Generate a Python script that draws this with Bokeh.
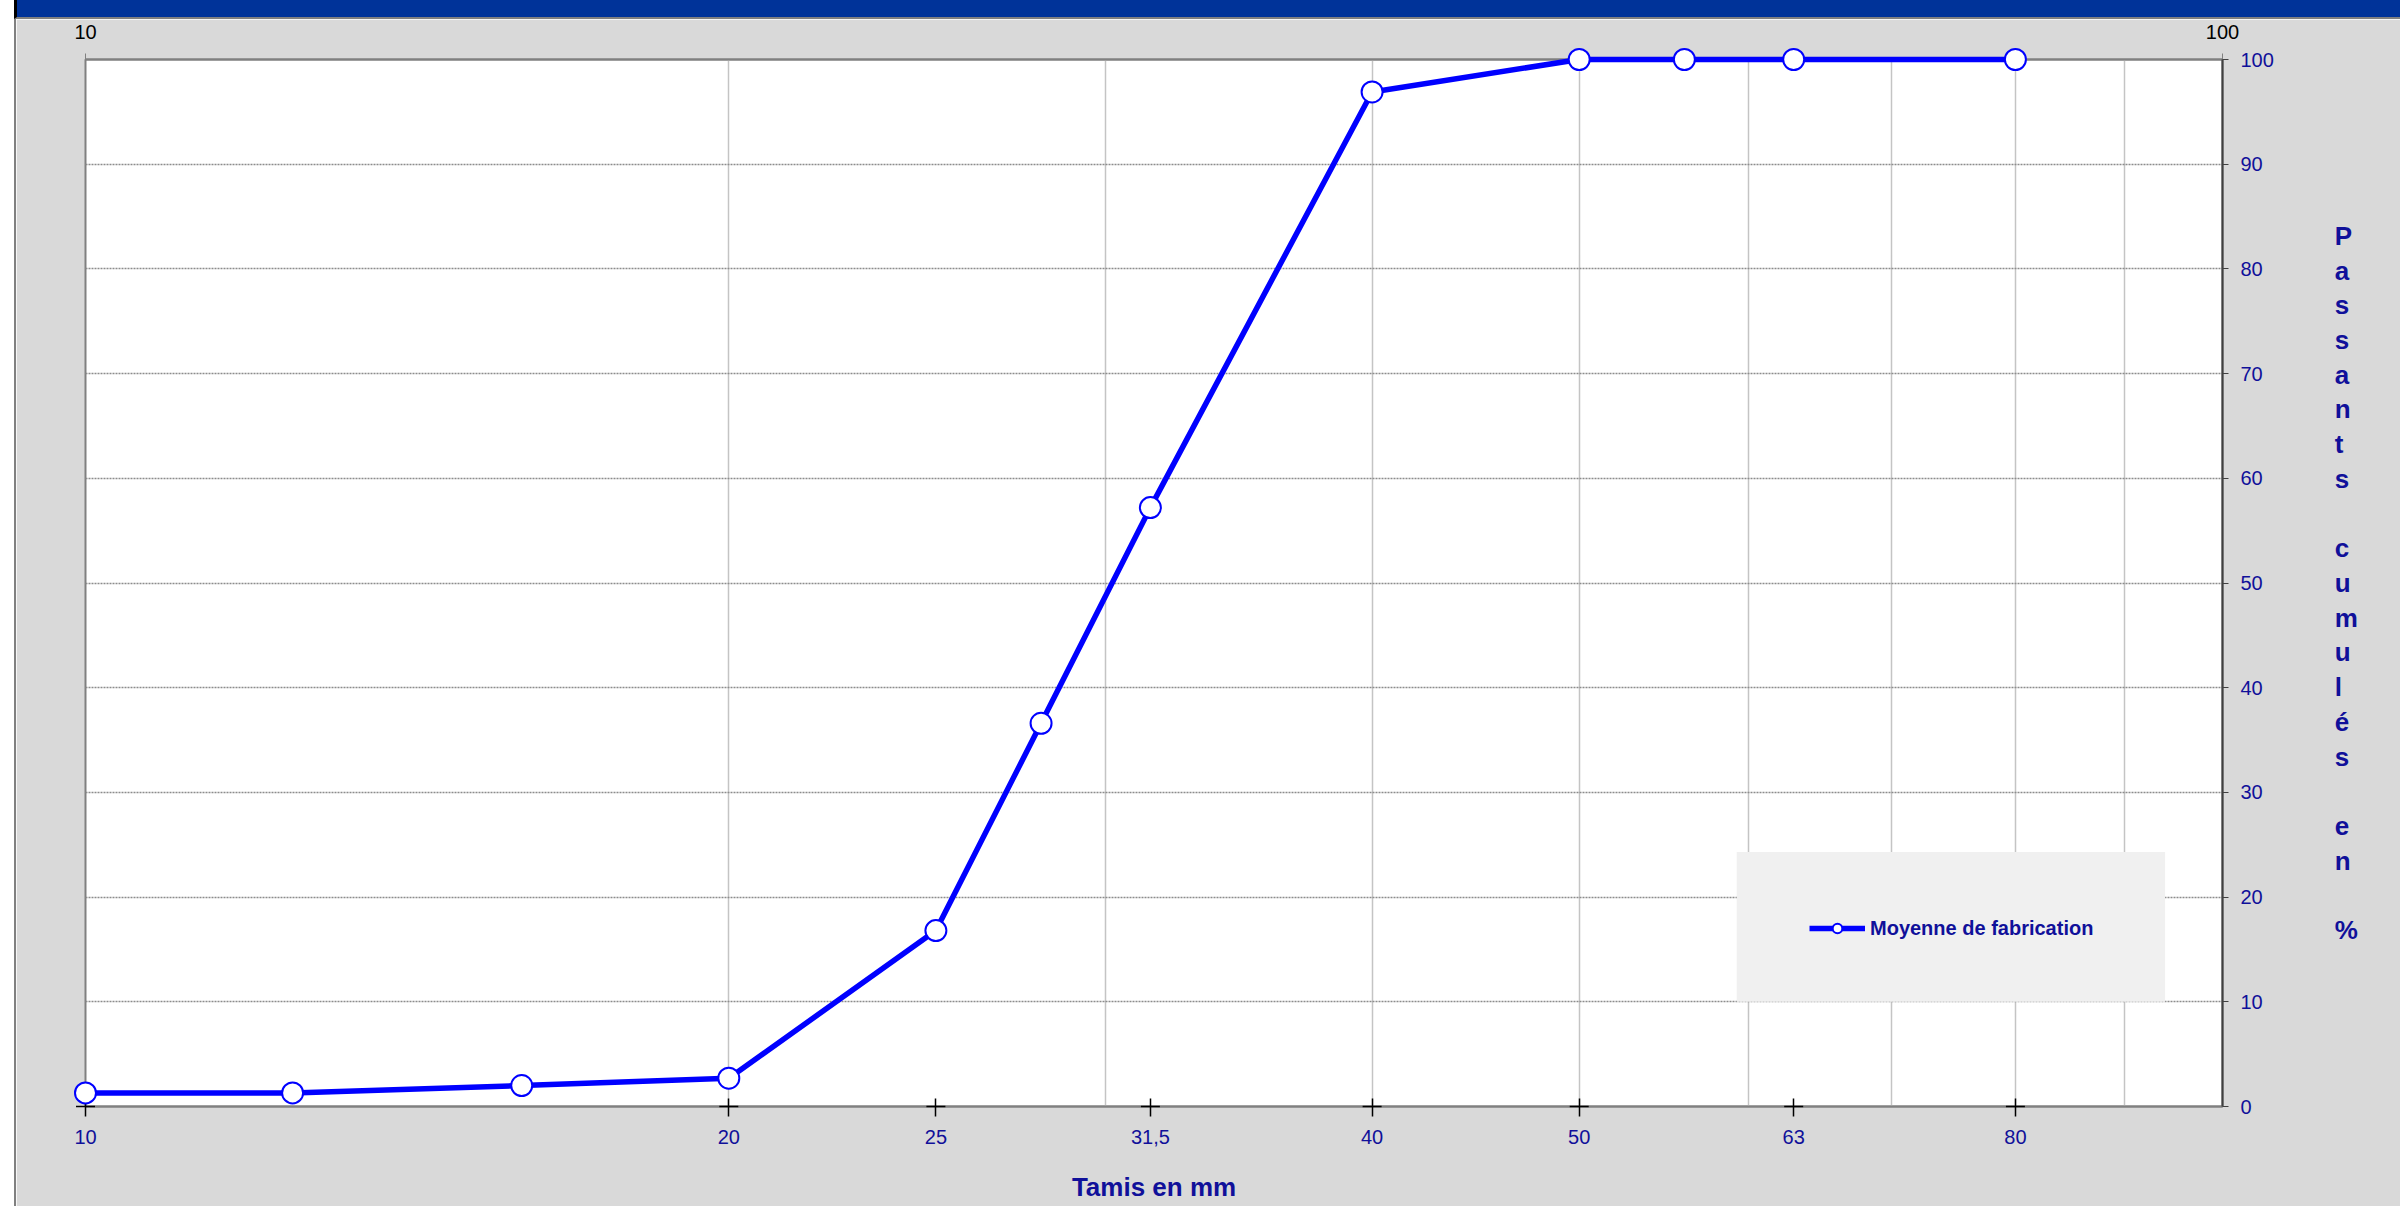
from bokeh.plotting import figure
from bokeh.models import (LogAxis, FixedTicker, Legend, LegendItem, BoxAnnotation,
                          Div, Spacer, CustomJSTickFormatter, ColumnDataSource)
from bokeh.layouts import column, row
from bokeh.embed import file_html
from bokeh.resources import INLINE

# ---- data ----
sieves = [10, 12.5, 16, 20, 25, 28, 31.5, 40, 50, 56, 63, 80]
passing = [1.3, 1.3, 2.0, 2.7, 16.8, 36.6, 57.2, 96.9, 100, 100, 100, 100]
bottom_ticks = [10, 20, 25, 31.5, 40, 50, 63, 80]
top_ticks = [10, 100]
right_ticks = [0, 10, 20, 30, 40, 50, 60, 70, 80, 90, 100]
xgrid_ticks = [20, 30, 40, 50, 60, 70, 80, 90]
ygrid_ticks = [10, 20, 30, 40, 50, 60, 70, 80, 90]
series_name = "Moyenne de fabrication"
x_title = "Tamis en mm"
y_title = "Passants cumulés en %"

FONT = "Liberation Sans"
NAVY = "#10109A"
GREY_BG = "#D9D9D9"

FIG_W, FIG_H = 2384, 1187

p = figure(width=FIG_W, height=FIG_H, x_axis_type="log", x_range=(10, 100), y_range=(0, 100),
           x_axis_location="below", y_axis_location="right",
           output_backend="svg", toolbar_location=None,
           min_border_left=69, min_border_right=178, min_border_top=40, min_border_bottom=100)
p.border_fill_color = GREY_BG
p.background_fill_color = "white"
p.outline_line_color = "#808080"
p.outline_line_width = 2

# bottom axis
xa = p.xaxis[0]
xa.ticker = FixedTicker(ticks=bottom_ticks)
xa.formatter = CustomJSTickFormatter(code="return String(tick).replace('.', ',')")
xa.major_tick_in = 8
xa.major_tick_out = 10
xa.major_tick_line_color = "black"
xa.major_tick_line_width = 1.5
xa.minor_tick_line_color = None
xa.axis_line_color = "#808080"
xa.axis_line_width = 2
xa.major_label_text_font = FONT
xa.major_label_text_font_size = "20px"
xa.major_label_text_color = NAVY
xa.major_label_standoff = 13
xa.axis_label = x_title
xa.axis_label_text_font = FONT
xa.axis_label_text_font_size = "26px"
xa.axis_label_text_font_style = "bold"
xa.axis_label_text_color = NAVY
xa.axis_label_standoff = 25

# right axis
stacked_lines = [ch if ch != " " else " " for ch in y_title]
ya = p.yaxis[0]
ya.ticker = FixedTicker(ticks=right_ticks)
ya.major_tick_in = 0
ya.major_tick_out = 6
ya.major_tick_line_color = "#404040"
ya.minor_tick_line_color = None
ya.axis_line_color = "#404040"
ya.axis_line_width = 2
ya.major_label_text_font = FONT
ya.major_label_text_font_size = "20px"
ya.major_label_text_color = NAVY
ya.major_label_standoff = 12
ya.axis_label = "\n".join(stacked_lines)
ya.axis_label_orientation = "horizontal"
ya.axis_label_text_font = FONT
ya.axis_label_text_font_size = "26px"
ya.axis_label_text_font_style = "bold"
ya.axis_label_text_color = NAVY
ya.axis_label_text_align = "center"
ya.axis_label_text_line_height = 1.157
ya.axis_label_standoff = 58

# top axis
ta = LogAxis(ticker=FixedTicker(ticks=top_ticks),
             formatter=CustomJSTickFormatter(code="return String(tick)"))
ta.major_tick_in = 0
ta.major_tick_out = 6
ta.major_tick_line_color = "#808080"
ta.minor_tick_line_color = None
ta.axis_line_color = "#808080"
ta.axis_line_width = 2
ta.major_label_text_font = FONT
ta.major_label_text_font_size = "20px"
ta.major_label_text_color = "black"
ta.major_label_standoff = 15
p.add_layout(ta, "above")

# grids
p.xgrid.ticker = FixedTicker(ticks=xgrid_ticks)
p.xgrid.grid_line_color = "#C4C4C4"
p.xgrid.grid_line_width = 1.5
p.ygrid.ticker = FixedTicker(ticks=ygrid_ticks)
p.ygrid.grid_line_color = "#8C8C8C"
p.ygrid.grid_line_width = 1.5
p.ygrid.grid_line_dash = "2 1"

# legend background box
p.add_layout(BoxAnnotation(left=59.25, right=94.0, bottom=10.0, top=24.3,
                           fill_color="#F0F0F0", fill_alpha=1, line_color=None))

src = ColumnDataSource(data=dict(x=sieves, y=passing))
line_r = p.line("x", "y", source=src, line_color="#0000FF", line_width=5.5, level="overlay")
pts_r = p.scatter("x", "y", source=src, marker="circle", size=21, fill_color="white",
                  line_color="#0000FF", line_width=2, level="overlay")

# "+" tick marks along the bottom axis
tick_src = ColumnDataSource(data=dict(x=bottom_ticks, y=[0] * len(bottom_ticks)))
p.scatter("x", "y", source=tick_src, marker="dash", size=19, line_color="black",
          line_width=1.5, level="overlay")

legend = Legend(items=[LegendItem(label=series_name, renderers=[line_r, pts_r])],
                location=(1724, 166), margin=0, padding=0,
                background_fill_alpha=0, border_line_color=None,
                glyph_width=56, glyph_height=24, label_height=24, label_standoff=5,
                label_text_font=FONT, label_text_font_size="20px",
                label_text_font_style="bold", label_text_color=NAVY)
p.add_layout(legend)

bar = Div(text="", width=2386, height=19, margin=0,
          styles={"background-color": "#003399", "border-left": "3px solid #000000",
                  "border-bottom": "2px solid #808080", "box-sizing": "border-box"})
edge = Spacer(width=2, height=FIG_H, margin=0, styles={"background-color": "#808080"})
layout = row(Spacer(width=14, height=FIG_H + 19, margin=0),
             column(bar, row(edge, p, spacing=0), spacing=0), spacing=0)

open("out.html", "w").write(file_html(layout, INLINE))
